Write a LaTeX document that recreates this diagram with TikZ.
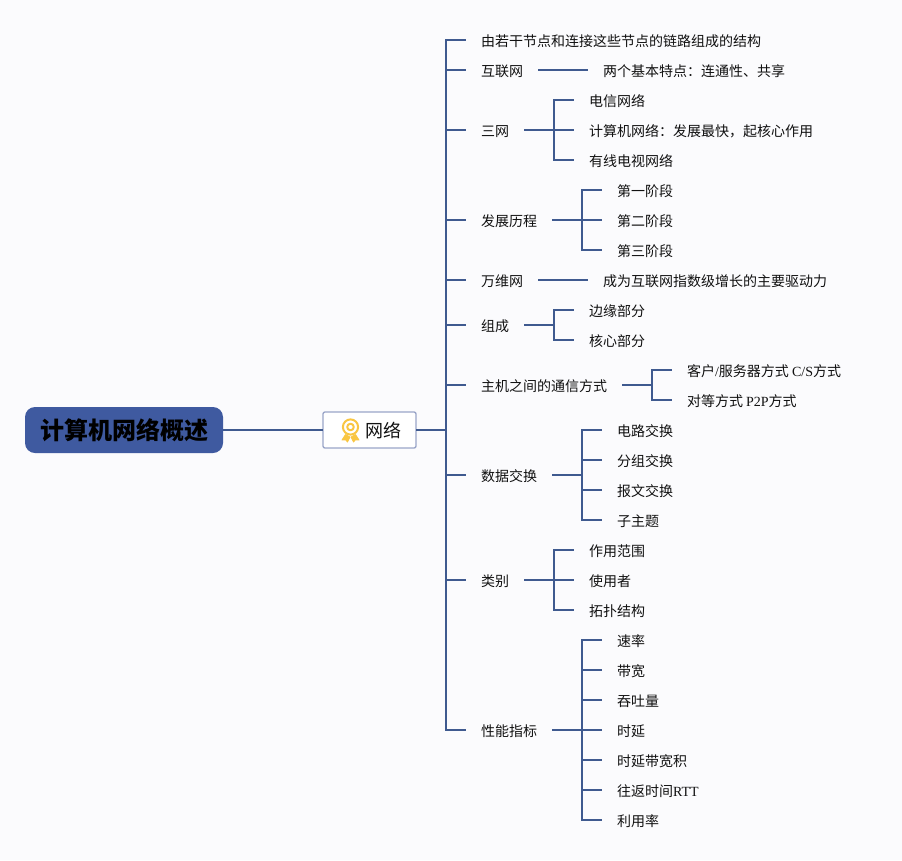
\documentclass[tikz,border=0pt]{standalone}
\usepackage{fontspec}
\setmainfont{Noto Sans CJK SC}
\newfontfamily\latfont{Liberation Serif}
\newcommand{\lat}[1]{{\latfont #1}}
\definecolor{bgc}{HTML}{FBFBFD}
\definecolor{linec}{HTML}{3F5A8F}
\definecolor{rootc}{HTML}{3F5AA0}
\definecolor{boxc}{HTML}{9AA5C8}
\definecolor{textc}{HTML}{111111}
\definecolor{gold}{HTML}{F9C642}
\tikzset{
  leaf/.style={anchor=west,outer sep=0pt,inner ysep=0pt,inner xsep=11.25pt,text=textc,
    font=\fontsize{10.5pt}{12pt}\selectfont,text height=.98em,text depth=.02em},
  conn/.style={draw=linec,line width=1.5pt},
  rootbox/.style={fill=rootc,outer sep=0pt,rounded corners=7.5pt,minimum width=148.5pt,minimum height=34.5pt,
    inner sep=0pt,text=black,font=\fontsize{18pt}{20pt}\selectfont\bfseries},
  netbox/.style={draw=boxc,outer sep=0pt,line width=1pt,fill=white,rounded corners=1.5pt,minimum height=27pt,
    inner ysep=0pt,inner xsep=11.25pt,text=textc,font=\fontsize{13.5pt}{15pt}\selectfont,
    text height=1.12em,text depth=.02em},
  medal/.style={draw=gold,line width=1.5pt,line join=round},
  ribbon/.style={fill=gold,draw=gold,line width=.6pt,line join=round}
}
\begin{document}
\begin{tikzpicture}[x=0.75pt,y=-0.75pt]
\useasboundingbox (0,0) rectangle (902,860);
\fill[bgc] (0,0) rectangle (902,860);
% main nodes
\node[rootbox] (root) at (124,430) {计算机网络概述};
\node[netbox] (net) at (369.5,430) {\hspace*{20.25pt}网络};
\coordinate (spine) at (446,430);
% medal icon
\draw[medal] (350.5,427) circle (7.6);
\draw[medal] (350.5,427) circle (3.3);
\fill[ribbon] (345.5,434.5) -- (342,440) -- (345.5,439.8) -- (347.5,442) -- (350,437) -- (345.5,434.5);
\fill[ribbon] (355.5,434.5) -- (359,440) -- (355.5,439.8) -- (353.5,442) -- (351,437) -- (355.5,434.5);
% first level
\node[leaf] (a1) at (466,40) {由若干节点和连接这些节点的链路组成的结构};
\node[leaf] (a2) at (466,70) {互联网};
\node[leaf] (a3) at (466,130) {三网};
\node[leaf] (a4) at (466,220) {发展历程};
\node[leaf] (a5) at (466,280) {万维网};
\node[leaf] (a6) at (466,325) {组成};
\node[leaf] (a7) at (466,385) {主机之间的通信方式};
\node[leaf] (a8) at (466,475) {数据交换};
\node[leaf] (a9) at (466,580) {类别};
\node[leaf] (a10) at (466,730) {性能指标};
% second level
\node[leaf] (b2) at (588,70) {两个基本特点：连通性、共享};
\node[leaf] (c1) at (574,100) {电信网络};
\node[leaf] (c2) at (574,130) {计算机网络：发展最快，起核心作用};
\node[leaf] (c3) at (574,160) {有线电视网络};
\node[leaf] (d1) at (602,190) {第一阶段};
\node[leaf] (d2) at (602,220) {第二阶段};
\node[leaf] (d3) at (602,250) {第三阶段};
\node[leaf] (e1) at (588,280) {成为互联网指数级增长的主要驱动力};
\node[leaf] (f1) at (574,310) {边缘部分};
\node[leaf] (f2) at (574,340) {核心部分};
\node[leaf] (g1) at (672,370) {客户\lat{/}服务器方式 \lat{C/S}方式};
\node[leaf] (g2) at (672,400) {对等方式 \lat{P2P}方式};
\node[leaf] (h1) at (602,430) {电路交换};
\node[leaf] (h2) at (602,460) {分组交换};
\node[leaf] (h3) at (602,490) {报文交换};
\node[leaf] (h4) at (602,520) {子主题};
\node[leaf] (i1) at (574,550) {作用范围};
\node[leaf] (i2) at (574,580) {使用者};
\node[leaf] (i3) at (574,610) {拓扑结构};
\node[leaf] (j1) at (602,640) {速率};
\node[leaf] (j2) at (602,670) {带宽};
\node[leaf] (j3) at (602,700) {吞吐量};
\node[leaf] (j4) at (602,730) {时延};
\node[leaf] (j5) at (602,760) {时延带宽积};
\node[leaf] (j6) at (602,790) {往返时间\lat{RTT}};
\node[leaf] (j7) at (602,820) {利用率};
% hubs
\coordinate (hc) at (554,130);
\coordinate (hd) at (582,220);
\coordinate (hf) at (554,325);
\coordinate (hg) at (652,385);
\coordinate (hh) at (582,475);
\coordinate (hi) at (554,580);
\coordinate (hj) at (582,730);
% connectors
\draw[conn] (root.east) -- (net.west);
\draw[conn] (net.east) -- (spine);
\foreach \n in {a1,a2,a3,a4,a5,a6,a7,a8,a9,a10}
  \draw[conn] (spine) |- (\n.west);
\draw[conn] (a2.east) -- (b2.west);
\draw[conn] (a5.east) -- (e1.west);
\draw[conn] (a3.east) -- (hc);
\foreach \n in {c1,c2,c3} \draw[conn] (hc) |- (\n.west);
\draw[conn] (a4.east) -- (hd);
\foreach \n in {d1,d2,d3} \draw[conn] (hd) |- (\n.west);
\draw[conn] (a6.east) -- (hf);
\foreach \n in {f1,f2} \draw[conn] (hf) |- (\n.west);
\draw[conn] (a7.east) -- (hg);
\foreach \n in {g1,g2} \draw[conn] (hg) |- (\n.west);
\draw[conn] (a8.east) -- (hh);
\foreach \n in {h1,h2,h3,h4} \draw[conn] (hh) |- (\n.west);
\draw[conn] (a9.east) -- (hi);
\foreach \n in {i1,i2,i3} \draw[conn] (hi) |- (\n.west);
\draw[conn] (a10.east) -- (hj);
\foreach \n in {j1,j2,j3,j4,j5,j6,j7} \draw[conn] (hj) |- (\n.west);
\end{tikzpicture}
\end{document}
